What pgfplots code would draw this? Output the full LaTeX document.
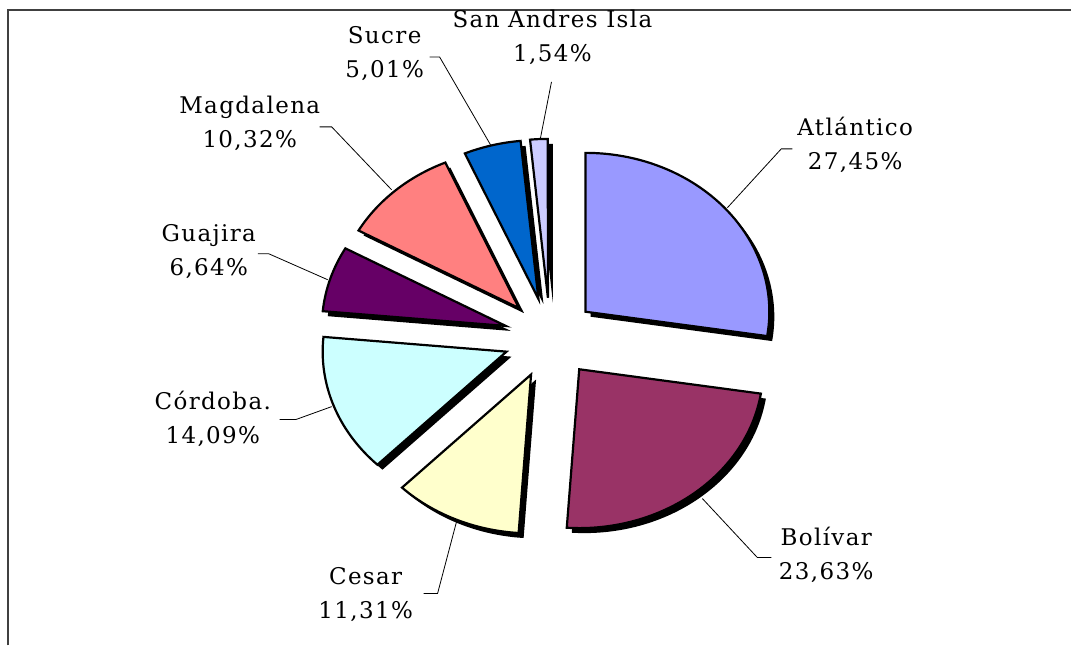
\documentclass[border=0pt]{standalone}
\usepackage{fontspec}
\setmainfont[LetterSpace=6]{DejaVu Serif}
\usepackage{pgfplots}
\pgfplotsset{compat=1.18}
\definecolor{c1}{HTML}{9999FF}
\definecolor{c2}{HTML}{993366}
\definecolor{c3}{HTML}{FFFFCC}
\definecolor{c4}{HTML}{CCFFFF}
\definecolor{c5}{HTML}{660066}
\definecolor{c6}{HTML}{FF8080}
\definecolor{c7}{HTML}{0066CC}
\definecolor{c8}{HTML}{CCCCFF}
\definecolor{frame}{HTML}{404040}
\tikzset{lbl/.style={font=\fontsize{11.5}{17}\selectfont, align=center, inner sep=0pt}}
\begin{document}
\begin{tikzpicture}
\begin{axis}[x=0.5pt, y=0.5pt, xmin=0, xmax=1072, ymin=0, ymax=646,
  hide axis, clip=false]
% frame
\addplot[frame, line width=1pt, no marks] coordinates {(8,0) (8,636) (1072,636)};
\pgfplotsextra{
  \path (rel axis cs:0,0) rectangle (rel axis cs:1,1);
  % cumulative / value / colour
  \foreach \cum/\v/\c in {0/27.45/c1, 27.45/23.63/c2, 51.08/11.31/c3, 62.39/14.09/c4,
                          76.48/6.64/c5, 83.12/10.32/c6, 93.44/5.01/c7, 98.45/1.54/c8}{
    \pgfmathsetmacro\aa{90-3.6*\cum}
    \pgfmathsetmacro\ab{90-3.6*(\cum+\v)}
    \pgfmathsetmacro\am{(\aa+\ab)/2}
    \pgfmathsetmacro\px{550.7+0.253*184*cos(\am)}
    \pgfmathsetmacro\py{307.8+0.253*159*sin(\am)}
    \fill[black] ([shift={(2.5pt,-2.5pt)}]axis cs:\px,\py) -- ++(\aa:92pt and 79.5pt)
       arc[start angle=\aa, end angle=\ab, x radius=92pt, y radius=79.5pt] -- cycle;
    \filldraw[fill=\c, draw=black, line width=1.1pt, line join=miter]
       (axis cs:\px,\py) -- ++(\aa:92pt and 79.5pt)
       arc[start angle=\aa, end angle=\ab, x radius=92pt, y radius=79.5pt] -- cycle;
  }
}
% leader lines
\addplot[black, line width=0.4pt, no marks] coordinates {(728,438) (782,497) (793,497)};
\addplot[black, line width=0.4pt, no marks] coordinates {(703,147) (758,88) (772,88)};
\addplot[black, line width=0.4pt, no marks] coordinates {(457,124) (438,52) (424,52)};
\addplot[black, line width=0.4pt, no marks] coordinates {(332,239) (296,226) (280,226)};
\addplot[black, line width=0.4pt, no marks] coordinates {(328,366) (269,392) (258,392)};
\addplot[black, line width=0.4pt, no marks] coordinates {(392,456) (332,519) (320,519)};
\addplot[black, line width=0.4pt, no marks] coordinates {(491,501) (440,589) (430,589)};
\addplot[black, line width=0.4pt, no marks] coordinates {(541,508) (552,564)};
% labels
\node[lbl] at (axis cs:856,501) {Atlántico\\27,45\%};
\node[lbl] at (axis cs:827,91) {Bolívar\\23,63\%};
\node[lbl] at (axis cs:366,50.5) {Cesar\\11,31\%};
\node[lbl] at (axis cs:213,227) {Córdoba.\\14,09\%};
\node[lbl] at (axis cs:209,394) {Guajira\\6,64\%};
\node[lbl] at (axis cs:250,523) {Magdalena\\10,32\%};
\node[lbl] at (axis cs:385,592) {Sucre\\5,01\%};
\node[lbl] at (axis cs:553,608.5) {San Andres Isla\\1,54\%};
\end{axis}
\end{tikzpicture}
\end{document}
